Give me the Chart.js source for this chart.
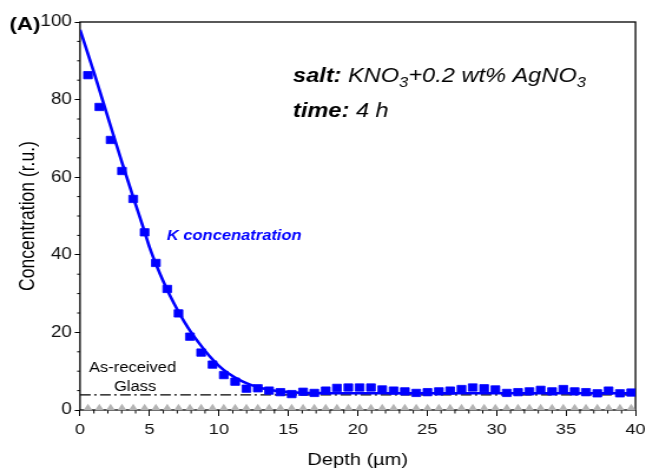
<!DOCTYPE html>
<html>
<head>
<meta charset="utf-8">
<title>K concentration vs depth</title>
<script src="https://cdn.jsdelivr.net/npm/chart.js@4.4.1/dist/chart.umd.min.js"></script>
<style>
  html, body { margin: 0; padding: 0; background: #fff; overflow: hidden; }
  #wrap { width: 646px; height: 473px; overflow: hidden; }
  /* the source figure is a bit wider than tall, so the canvas is stretched sideways */
  #chart { transform: scaleX(1.1788); transform-origin: 0 0; }
</style>
</head>
<body>
<div id="wrap"><canvas id="chart" width="548" height="473"></canvas></div>
<script>
// measured K profile (squares)
const depthK = [0.57, 1.39, 2.2, 3.02, 3.83, 4.65, 5.46, 6.28, 7.09, 7.91, 8.72, 9.54, 10.35, 11.17, 11.98,
  12.8, 13.61, 14.43, 15.24, 16.06, 16.87, 17.69, 18.5, 19.32, 20.13, 20.95, 21.76, 22.58, 23.39, 24.21,
  25.02, 25.84, 26.65, 27.47, 28.28, 29.1, 29.91, 30.73, 31.54, 32.36, 33.17, 33.99, 34.8, 35.62, 36.43,
  37.25, 38.06, 38.88, 39.69];
const concK = [86.3, 78.1, 69.6, 61.6, 54.4, 45.8, 37.9, 31.2, 24.9, 18.9, 14.8, 11.7, 9.0, 7.3, 5.5,
  5.6, 5.0, 4.6, 4.1, 4.7, 4.4, 5.0, 5.7, 5.8, 5.8, 5.8, 5.3, 5.0, 4.8, 4.4,
  4.6, 4.8, 5.0, 5.4, 5.8, 5.6, 5.3, 4.4, 4.6, 4.8, 5.2, 4.8, 5.4, 4.8, 4.6,
  4.3, 5.0, 4.3, 4.5];

// as-received glass (grey triangles), same depth steps
const concGlass = [0.5, 0.5, 0.5, 0.5, 0.5, 0.5, 0.5, 0.5, 0.5, 0.5, 0.5, 0.5, 0.5, 0.5, 0.5,
  0.5, 0.5, 0.5, 0.5, 0.5, 0.5, 0.5, 0.5, 0.5, 0.5, 0.5, 0.5, 0.5, 0.5, 0.5,
  0.5, 0.5, 0.5, 0.5, 0.5, 0.5, 0.5, 0.5, 0.5, 0.5, 0.5, 0.5, 0.5, 0.5, 0.5,
  0.5, 0.5, 0.5, 0.5];

// fitted diffusion curve
const fitDepth = [0, 1, 2, 3, 4, 4.6, 5, 5.5, 6, 6.5, 7, 7.5, 8, 8.6, 9.3, 10, 10.7, 11.5, 12.2, 12.9,
  13.6, 14.35, 15, 15.8, 17, 20, 25, 30, 35, 40];
const fitConc = [98, 87, 75.5, 64, 53, 46.5, 42, 37.3, 33.1, 29.3, 25.9, 22.8, 20.0, 17.1, 14.0, 11.4,
  9.4, 7.7, 6.6, 5.8, 5.2, 4.8, 4.6, 4.45, 4.35, 4.3, 4.3, 4.3, 4.3, 4.3];

// as-received glass level (dash-dot)
const glassLineDepth = [0, 40];
const glassLineConc = [3.9, 3.9];

const xTicks = [0, 5, 10, 15, 20, 25, 30, 35, 40];
const yTicks = [0, 20, 40, 60, 80, 100];

const FONT = '"Liberation Sans", Arial, sans-serif';
const BLUE = '#0000ff';

const pts = (xs, ys) => xs.map((x, i) => ({ x: x, y: ys[i] }));

const decor = {
  id: 'decor',
  beforeDatasetsDraw(chart) {
    const { ctx, chartArea: a, scales } = chart;
    ctx.save();
    ctx.strokeStyle = '#000';
    ctx.lineWidth = 1.3;
    ctx.strokeRect(a.left, a.top, a.right - a.left, a.bottom - a.top);
    // minor ticks
    ctx.lineWidth = 1;
    ctx.beginPath();
    for (let v = 1; v < 40; v++) {
      if (v % 5 === 0) continue;
      const px = scales.x.getPixelForValue(v);
      ctx.moveTo(px, a.bottom);
      ctx.lineTo(px, a.bottom + 3.5);
    }
    for (let v = 5; v < 100; v += 5) {
      if (v % 20 === 0) continue;
      const py = scales.y.getPixelForValue(v);
      ctx.moveTo(a.left, py);
      ctx.lineTo(a.left - 2.5, py);
    }
    ctx.stroke();
    ctx.restore();
  },
  afterDraw(chart) {
    const { ctx, chartArea: a } = chart;
    ctx.save();
    ctx.fillStyle = '#000';
    ctx.textBaseline = 'alphabetic';

    ctx.font = 'bold 19px ' + FONT;
    ctx.fillText('(A)', 8, 30);

    // axis titles
    ctx.font = '17px ' + FONT;
    ctx.textAlign = 'center';
    ctx.fillText('Depth (µm)', (a.left + a.right) / 2, 465);
    ctx.save();
    ctx.translate(28.5, (a.top + a.bottom) / 2);
    ctx.rotate(-Math.PI / 2);
    ctx.font = '17.5px ' + FONT;
    ctx.fillText('Concentration (r.u.)', 0, 0);
    ctx.restore();
    ctx.textAlign = 'left';

    // salt / time annotation
    const runs = (x, y, parts) => {
      parts.forEach(p => {
        ctx.font = p.f;
        ctx.fillText(p.t, x, y + (p.dy || 0));
        x += ctx.measureText(p.t).width;
      });
    };
    runs(248.6, 81.5, [
      { t: 'salt:', f: 'italic bold 20px ' + FONT },
      { t: ' KNO', f: 'italic 20px ' + FONT },
      { t: '3', f: 'italic 14px ' + FONT, dy: 5 },
      { t: '+0.2 wt% AgNO', f: 'italic 20px ' + FONT },
      { t: '3', f: 'italic 14px ' + FONT, dy: 5 }
    ]);
    runs(248.6, 116.5, [
      { t: 'time:', f: 'italic bold 20px ' + FONT },
      { t: ' 4 h', f: 'italic 20px ' + FONT }
    ]);

    ctx.fillStyle = BLUE;
    ctx.font = 'italic bold 14px ' + FONT;
    ctx.fillText('K concenatration', 141.5, 240);

    ctx.fillStyle = '#000';
    ctx.font = '14px ' + FONT;
    ctx.fillText('As-received', 75.5, 372);
    ctx.fillText('Glass', 96.7, 391);
    ctx.restore();
  }
};

new Chart(document.getElementById('chart'), {
  type: 'line',
  data: {
    datasets: [
      {
        label: 'K concentration',
        data: pts(depthK, concK),
        showLine: false,
        pointStyle: 'rect',
        pointRadius: 5.2,
        pointBorderWidth: 0.8,
        pointBackgroundColor: BLUE,
        pointBorderColor: BLUE,
        order: 1
      },
      {
        label: 'fit',
        data: pts(fitDepth, fitConc),
        borderColor: BLUE,
        borderWidth: 2.6,
        pointRadius: 0,
        cubicInterpolationMode: 'monotone',
        order: 2
      },
      {
        label: 'As-received glass level',
        data: pts(glassLineDepth, glassLineConc),
        borderColor: '#000',
        borderWidth: 1.2,
        borderDash: [9, 3, 2, 3],
        pointRadius: 0,
        order: 3
      },
      {
        label: 'As-received glass',
        data: pts(depthK, concGlass),
        showLine: false,
        pointStyle: 'triangle',
        pointRadius: 4.4,
        pointBorderWidth: 0,
        pointBackgroundColor: '#b4b4b4',
        pointBorderColor: '#b4b4b4',
        clip: false,
        order: 4
      }
    ]
  },
  options: {
    responsive: false,
    animation: false,
    events: [],
    layout: { padding: { left: 0, right: 8.9, top: 22, bottom: 0 } },
    plugins: { legend: { display: false }, tooltip: { enabled: false } },
    scales: {
      x: {
        type: 'linear',
        min: 0,
        max: 40,
        afterFit(s) { s.height = 63; s.paddingLeft = 0; s.paddingRight = 0; },
        afterBuildTicks(s) { s.ticks = xTicks.map(v => ({ value: v })); },
        border: { display: false },
        grid: { drawOnChartArea: false, drawTicks: true, tickLength: 6, color: '#000', lineWidth: 1 },
        ticks: { color: '#111', padding: 4, font: { family: FONT, size: 15.5 }, maxRotation: 0 }
      },
      y: {
        type: 'linear',
        min: 0,
        max: 100,
        afterFit(s) { s.width = 67.9; s.paddingTop = 0; s.paddingBottom = 0; },
        afterBuildTicks(s) { s.ticks = yTicks.map(v => ({ value: v })); },
        border: { display: false },
        grid: { drawOnChartArea: false, drawTicks: true, tickLength: 4.5, color: '#000', lineWidth: 1 },
        ticks: { color: '#111', padding: 2.4, font: { family: FONT, size: 16 } }
      }
    }
  },
  plugins: [decor]
});
</script>
</body>
</html>
